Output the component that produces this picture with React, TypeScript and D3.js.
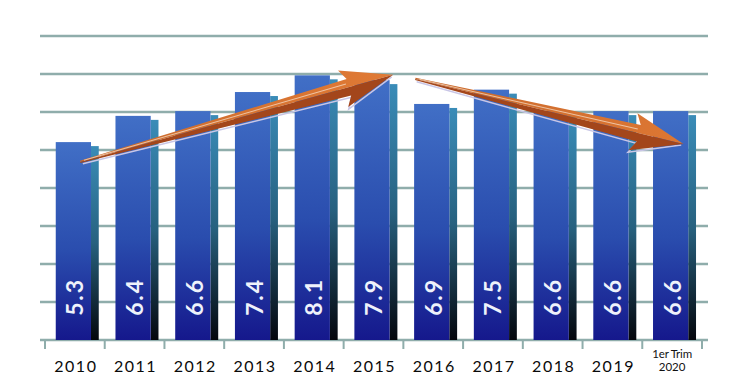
import { useMemo } from "react";
import * as d3 from "d3";

// bar data
const categories = ["2010", "2011", "2012", "2013", "2014", "2015", "2016", "2017", "2018", "2019", "1er Trim 2020"];
const values = [5.3, 6.4, 6.6, 7.4, 8.1, 7.9, 6.9, 7.5, 6.6, 6.6, 6.6];
const valueLabels = ["5.3", "6.4", "6.6", "7.4", "8.1", "7.9", "6.9", "7.5", "6.6", "6.6", "6.6"];
// horizontal rules behind the bars
const gridTicks = [0, 1, 2, 3, 4, 5, 6, 7, 8];
// trend arrows, anchored on category + value
const arrowFrom = ["2010", "2016"];
const arrowFromValues = [4.47, 7.95];
const arrowTo = ["2015", "1er Trim 2020"];
const arrowToValues = [8.12, 5.22];

const W = 750;
const H = 375;
const GRID = "#8fadab";

function Arrow({ x1, y1, x2, y2, id }: { x1: number; y1: number; x2: number; y2: number; id: number }) {
  const L = Math.hypot(x2 - x1, y2 - y1);
  const ang = (Math.atan2(y2 - y1, x2 - x1) * 180) / Math.PI;
  const hl = 46; // head length
  const hh = 19; // head half width
  const sw = 8.5; // shaft half width near head
  const top = `M0,-1.2 L${L - hl},${-sw} L${L - hl - 6},${-hh} L${L},0 L0,0 Z`;
  const bot = `M0,1.2 L${L - hl},${sw} L${L - hl - 6},${hh} L${L},0 L0,0 Z`;
  return (
    <g transform={`translate(${x1},${y1}) rotate(${ang})`}>
      <path d={`M2,2.5 L${L - hl},${sw + 2} L${L - hl - 6},${hh + 2} L${L - 2},1.5`} fill="none" stroke="#c9c6e6" strokeWidth={1.5} />
      <path d={top} fill={`url(#arTop${id})`} />
      <path d={bot} fill="#a3461b" />
      <path d={`M4,-0.6 L${L - hl - 2},${-sw * 0.45}`} stroke="#f4d7bf" strokeWidth={1} opacity={0.8} />
    </g>
  );
}

export default function App() {
  const x = useMemo(() => d3.scaleBand<string>().domain(categories).range([45, 702]).padding(0), []);
  const y = useMemo(() => d3.scaleLinear().domain([-3, 9.75]).range([340, 36]), []);
  const g = useMemo(() => d3.scaleLinear().domain([0, 8]).range([340, 36]), []);
  const bw = x.bandwidth();
  const frontX = bw * 0.18;
  const frontW = bw * 0.59;
  const sideW = bw * 0.13;
  const arrowFracs = [
    [0.59, 0.83],
    [0.2, 0.69],
  ];

  return (
    <svg width={W} height={H} style={{ position: "absolute", left: 0, top: 0, background: "#fff" }}>
      <defs>
        <linearGradient id="front" x1="0" y1="0" x2="0" y2="1">
          <stop offset="0%" stopColor="#416fc6" />
          <stop offset="55%" stopColor="#2a4dae" />
          <stop offset="100%" stopColor="#15188c" />
        </linearGradient>
        <linearGradient id="side" x1="0" y1="0" x2="0" y2="1">
          <stop offset="0%" stopColor="#3a8cb8" />
          <stop offset="50%" stopColor="#27617f" />
          <stop offset="100%" stopColor="#04060c" />
        </linearGradient>
        <linearGradient id="arTop0" x1="0" y1="0" x2="1" y2="0">
          <stop offset="0%" stopColor="#c9692c" />
          <stop offset="100%" stopColor="#e07a35" />
        </linearGradient>
        <linearGradient id="arTop1" x1="0" y1="0" x2="1" y2="0">
          <stop offset="0%" stopColor="#c9692c" />
          <stop offset="100%" stopColor="#dd7733" />
        </linearGradient>
      </defs>

      {gridTicks.map((t) => (
        <line key={t} x1={40} x2={708} y1={g(t)} y2={g(t)} stroke={GRID} strokeWidth={2.5} />
      ))}
      {d3.range(categories.length + 1).map((i) => {
        const xx = 45 + i * x.step();
        return <line key={i} x1={xx} x2={xx} y1={340} y2={349} stroke={GRID} strokeWidth={2} />;
      })}

      {categories.map((c, i) => {
        const x0 = x(c)!;
        const top = y(values[i]);
        return (
          <g key={c}>
            <rect x={x0 + frontX + frontW} y={top + 4} width={sideW} height={340 - top - 4} fill="url(#side)" />
            <rect x={x0 + frontX} y={top} width={frontW} height={340 - top} fill="url(#front)" />
            <text
              transform={`translate(${x0 + frontX + frontW / 2 + 1},297) rotate(-90)`}
              textAnchor="middle"
              dominantBaseline="central"
              fill="#eef2fb"
              fontFamily="Lato, 'DejaVu Sans', sans-serif"
              fontWeight={700}
              fontSize={23}
              letterSpacing={1.8}
            >
              {valueLabels[i]}
            </text>
          </g>
        );
      })}

      {arrowFrom.map((f, i) => {
        const x1 = x(f)! + arrowFracs[i][0] * bw;
        const x2 = x(arrowTo[i])! + arrowFracs[i][1] * bw;
        return <Arrow key={i} id={i} x1={x1} y1={y(arrowFromValues[i])} x2={x2} y2={y(arrowToValues[i])} />;
      })}

      {categories.map((c) => {
        const cx = x(c)! + bw / 2 + 1;
        if (c.startsWith("1er")) {
          return (
            <g key={c} fontFamily="Lato, sans-serif" fontSize={11.5} fill="#111" textAnchor="middle">
              <text x={cx - 1} y={358} letterSpacing={-0.2}>1er Trim</text>
              <text x={cx - 1} y={371}>2020</text>
            </g>
          );
        }
        return (
          <text key={c} x={cx} y={372} textAnchor="middle" fontFamily="Lato, sans-serif" fontSize={16} letterSpacing={1.5} fill="#0a0a0a">
            {c}
          </text>
        );
      })}
    </svg>
  );
}
